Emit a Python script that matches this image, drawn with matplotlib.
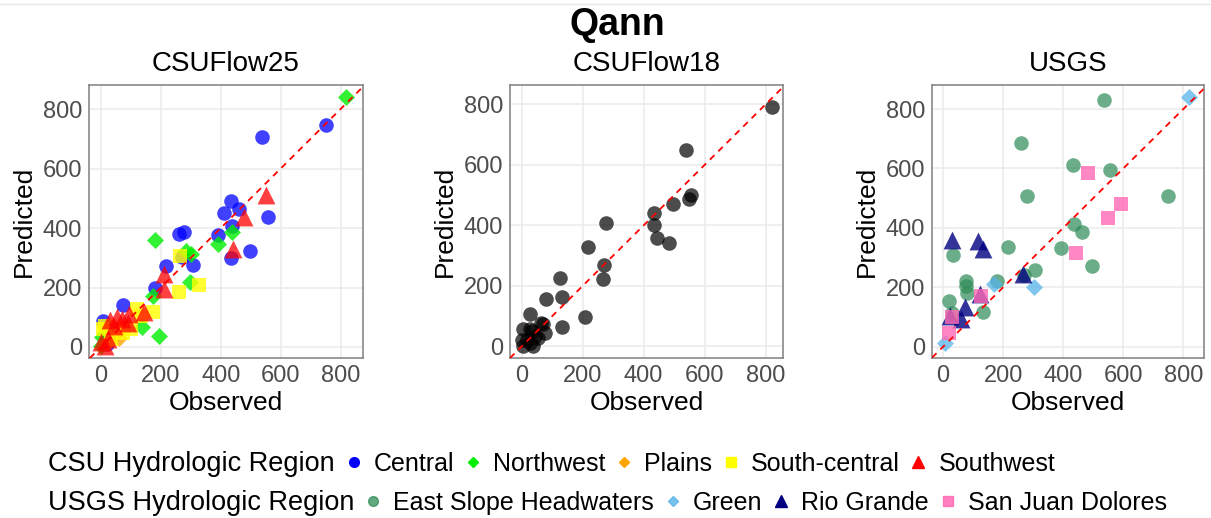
import matplotlib
matplotlib.use("Agg")
import matplotlib.pyplot as plt
from matplotlib.lines import Line2D

plt.rcParams['font.family'] = ['Liberation Sans', 'DejaVu Sans']

# CSUFlow25, by CSU hydrologic region
central_obs = [751, 537, 433, 461, 411, 557, 439, 392, 259, 278, 498, 433, 270, 307, 218, 180, 75, 8, 20, 30]
central_pred = [747, 705, 490, 464, 449, 437, 408, 376, 381, 388, 324, 300, 303, 275, 271, 197, 140, 87, 10, 40]
northwest_obs = [817, 182, 438, 390, 284, 300, 298, 173, 136, 195, 24, 2, 1, 25]
northwest_pred = [840, 359, 387, 346, 322, 312, 220, 170, 66, 37, 59, 32, 3, 20]
plains_obs = [40, 51, 20, 60]
plains_pred = [40, 43, 15, 30]
southcentral_obs = [264, 259, 329, 173, 120, 135, 75, 8, 14, 34, 63, 100]
southcentral_pred = [305, 185, 209, 119, 128, 103, 48, 59, 71, 26, 59, 60]
southwest_obs = [550, 478, 442, 211, 211, 145, 95, 70, 55, 30, 90, 13, 0, 25, 45]
southwest_pred = [512, 437, 328, 246, 194, 118, 112, 95, 100, 90, 82, 5, 18, 28, 70]

# CSUFlow18
obs18 = [821, 538, 557, 550, 497, 434, 434, 443, 483, 278, 218, 269, 266, 126, 134, 79,
         209, 131, 27, 71, 64, 76, 55, 28, 6, 37, 5, 18, 2, 27, 45, 35]
pred18 = [792, 649, 500, 486, 471, 440, 400, 360, 341, 409, 328, 268, 224, 227, 162, 157,
          96, 66, 107, 74, 77, 45, 27, 57, 59, 0, 3, 20, 22, 11, 35, 50]

# USGS, by USGS hydrologic region
esh_obs = [537, 259, 433, 556, 278, 750, 435, 462, 392, 217, 33, 496, 307, 268, 179, 75, 76, 79, 20, 134, 30]
esh_pred = [831, 686, 613, 595, 509, 507, 412, 385, 333, 336, 308, 273, 257, 241, 222, 221, 205, 182, 154, 118, 112]
green_obs = [820, 170, 303, 5]
green_pred = [839, 210, 201, 14]
rio_obs = [31, 116, 133, 265, 122, 73, 24, 61]
rio_pred = [358, 356, 330, 246, 176, 132, 104, 92]
sjd_obs = [482, 593, 550, 442, 125, 30, 19]
sjd_pred = [585, 482, 434, 317, 171, 99, 46]

ticks = [0, 200, 400, 600, 800]

fig = plt.figure(figsize=(12.11, 5.18), dpi=100)
ax1 = fig.add_axes([89/1211, 160/518, 274/1211, 273/518])
ax2 = fig.add_axes([510/1211, 160/518, 273/1211, 273/518])
ax3 = fig.add_axes([932/1211, 160/518, 272/1211, 273/518])

ax1.scatter(central_obs, central_pred, marker='o', s=110, color='#0000ff', alpha=0.75, lw=0, zorder=2)
ax1.scatter(northwest_obs, northwest_pred, marker='D', s=75, color='#00ee00', alpha=0.8, lw=0, zorder=2)
ax1.scatter(plains_obs, plains_pred, marker='D', s=75, color='#ffa500', alpha=0.8, lw=0, zorder=2)
ax1.scatter(southcentral_obs, southcentral_pred, marker='s', s=115, color='#ffff00', alpha=0.8, lw=0, zorder=2)
ax1.scatter(southwest_obs, southwest_pred, marker='^', s=165, color='#ff0000', alpha=0.75, lw=0, zorder=2)

ax2.scatter(obs18, pred18, marker='o', s=110, color='black', alpha=0.7, lw=0, zorder=2)

ax3.scatter(esh_obs, esh_pred, marker='o', s=110, color='#2e8b57', alpha=0.7, lw=0, zorder=2)
ax3.scatter(green_obs, green_pred, marker='D', s=75, color='#56b4e9', alpha=0.75, lw=0, zorder=2)
ax3.scatter(rio_obs, rio_pred, marker='^', s=165, color='#000080', alpha=0.8, lw=0, zorder=2)
ax3.scatter(sjd_obs, sjd_pred, marker='s', s=115, color='#ff69b4', alpha=0.8, lw=0, zorder=2)

ax1.set_xlim(-40, 875)
ax1.set_ylim(-37, 881)
ax2.set_xlim(-38, 857)
ax2.set_ylim(-38, 864)
ax3.set_xlim(-37, 869)
ax3.set_ylim(-38, 881)

for ax, name in zip([ax1, ax2, ax3], ['CSUFlow25', 'CSUFlow18', 'USGS']):
    ax.axline((0, 0), slope=1, color='red', lw=1.3, ls=(0, (3.5, 3)), zorder=3)
    ax.set_xticks(ticks)
    ax.set_yticks(ticks)
    ax.grid(True, color='#ebebeb', lw=1.1, zorder=0)
    ax.set_axisbelow(True)
    ax.tick_params(length=0, labelsize=17, labelcolor='#4d4d4d', pad=5)
    for sp in ax.spines.values():
        sp.set_color('#7f7f7f')
        sp.set_linewidth(1.1)
    ax.set_xlabel('Observed', fontsize=19, labelpad=3)
    ax.set_ylabel('Predicted', fontsize=19, labelpad=5)
    ax.set_title(name, fontsize=20, pad=10)

fig.text(617/1211, 1 - 25/518, 'Qann', fontsize=27, fontweight='bold', ha='center', va='center')
fig.add_artist(Line2D([0, 1], [1 - 4/518, 1 - 4/518], color='#e8e8e8', lw=1))

blank = Line2D([], [], ls='none')
csu_handles = [blank,
               Line2D([], [], ls='none', marker='o', ms=7, color='#0000ff'),
               Line2D([], [], ls='none', marker='D', ms=5.5, color='#00ee00'),
               Line2D([], [], ls='none', marker='D', ms=5.5, color='#ffa500'),
               Line2D([], [], ls='none', marker='s', ms=7, color='#ffff00'),
               Line2D([], [], ls='none', marker='^', ms=8, color='#ff0000')]
csu_labels = ['CSU Hydrologic Region', 'Central', 'Northwest', 'Plains', 'South-central', 'Southwest']
usgs_handles = [blank,
                Line2D([], [], ls='none', marker='o', ms=7, color='#2e8b57', alpha=0.75),
                Line2D([], [], ls='none', marker='D', ms=5.5, color='#56b4e9', alpha=0.8),
                Line2D([], [], ls='none', marker='^', ms=8, color='#000080'),
                Line2D([], [], ls='none', marker='s', ms=7, color='#ff69b4', alpha=0.85)]
usgs_labels = ['USGS Hydrologic Region', 'East Slope Headwaters', 'Green', 'Rio Grande', 'San Juan Dolores']

leg_kw = dict(loc='center left', frameon=False, fontsize=18, handlelength=0.5,
              handletextpad=0.55, columnspacing=0.5, borderpad=0, borderaxespad=0)
leg1 = fig.legend(csu_handles, csu_labels, ncol=6, bbox_to_anchor=(22/1211, 1 - 464/518), **leg_kw)
leg2 = fig.legend(usgs_handles, usgs_labels, ncol=5, bbox_to_anchor=(22/1211, 1 - 503/518), **leg_kw)
for leg in [leg1, leg2]:
    leg.get_texts()[0].set_fontsize(19.5)

plt.savefig('out.png', dpi=100)
